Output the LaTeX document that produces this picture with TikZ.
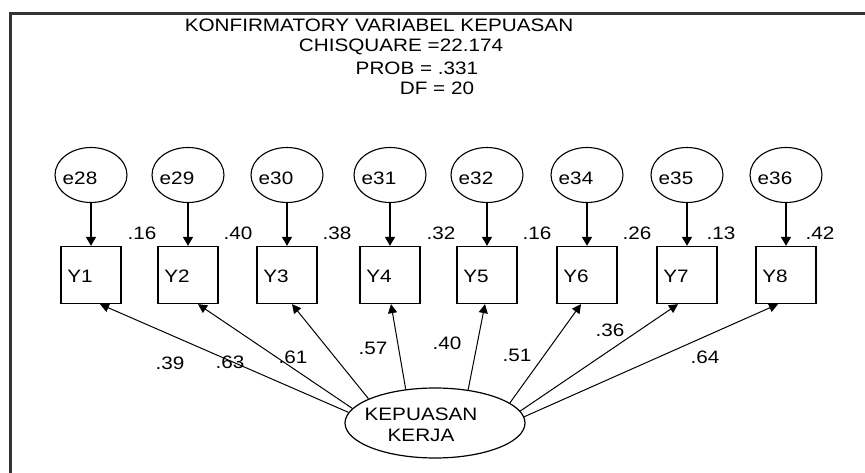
\documentclass[tikz,border=0pt]{standalone}
\usepackage{fontspec}
\usepackage{graphicx}
\setmainfont{Liberation Sans}
\usetikzlibrary{shapes.geometric,arrows.meta}
\newcommand{\hs}[1]{\scalebox{1.15}[1]{#1}}
\begin{document}
\begin{tikzpicture}[x=1pt,y=-1pt,
  every node/.style={font=\fontsize{18}{21}\selectfont},
  errell/.style={draw,ellipse,line width=1.1pt,minimum width=72pt,minimum height=55pt,inner sep=0pt},
  obsbox/.style={draw,rectangle,line width=1.3pt,minimum width=60pt,minimum height=57pt,inner sep=0pt},
  latell/.style={draw,ellipse,line width=1.2pt,minimum width=180pt,minimum height=70pt,inner sep=0pt},
  lbl/.style={inner sep=0pt},
  errarr/.style={line width=1.4pt,-{Triangle[width=10pt,length=9pt]}},
  regarr/.style={line width=1pt,-{Triangle[width=9pt,length=9pt]}},
  frameline/.style={line width=3pt,draw=black!80}]
\useasboundingbox (0,0) rectangle (865,473);
\fill[white] (0,0) rectangle (865,473);
\draw[frameline] (10,473) -- (10,13.5) -- (865,13.5);

% title
\node[lbl] (t1) at (379,25) {\hs{KONFIRMATORY VARIABEL KEPUASAN}};
\node[lbl] (t2) at (401,47) {\hs{CHISQUARE =22.174}};
\node[lbl] (t3) at (417,68) {\hs{PROB = .331}};
\node[lbl] (t4) at (437,88) {\hs{DF = 20}};

% latent
\node[latell] (K) at (435,423) {};
\node[lbl,align=center] (Kt) at (421,425) {\hs{KEPUASAN}\\\hs{KERJA}};

% indicators and errors
\foreach \i/\x/\e/\v/\vx in {1/91/28/.16/142, 2/188/29/.40/238, 3/287/30/.38/337, 4/390/31/.32/441,
    5/487/32/.16/537, 6/587/34/.26/637, 7/687/35/.13/721, 8/786/36/.42/820} {
  \node[errell] (e\e) at (\x,175) {};
  \node[lbl] (et\e) at ([xshift=-11pt,yshift=-3pt]e\e.center) {\hs{e\e}};
  \node[obsbox] (Y\i) at (\x,275) {};
  \node[lbl] (Yt\i) at ([xshift=-11pt,yshift=-1.5pt]Y\i.center) {\hs{Y\i}};
  \node[lbl] (v\i) at (\vx,233) {\hs{\v}};
  \draw[errarr] (e\e) -- (Y\i);
}

% regressions
\foreach \i/\a/\sh/\l/\lx/\ly in {1/173/9/.39/170/363, 2/170/10/.63/230/362, 3/160/5/.61/293/357,
    4/131/1/.57/373/348, 5/45/-2/.40/447/343, 6/15/-6/.51/517/355, 7/8/-9/.36/610/330, 8/4/-8/.64/705/357} {
  \draw[regarr] (K.\a) -- ([xshift=\sh pt]Y\i.south);
  \node[lbl] (r\i) at (\lx,\ly) {\hs{\l}};
}
\end{tikzpicture}
\end{document}
